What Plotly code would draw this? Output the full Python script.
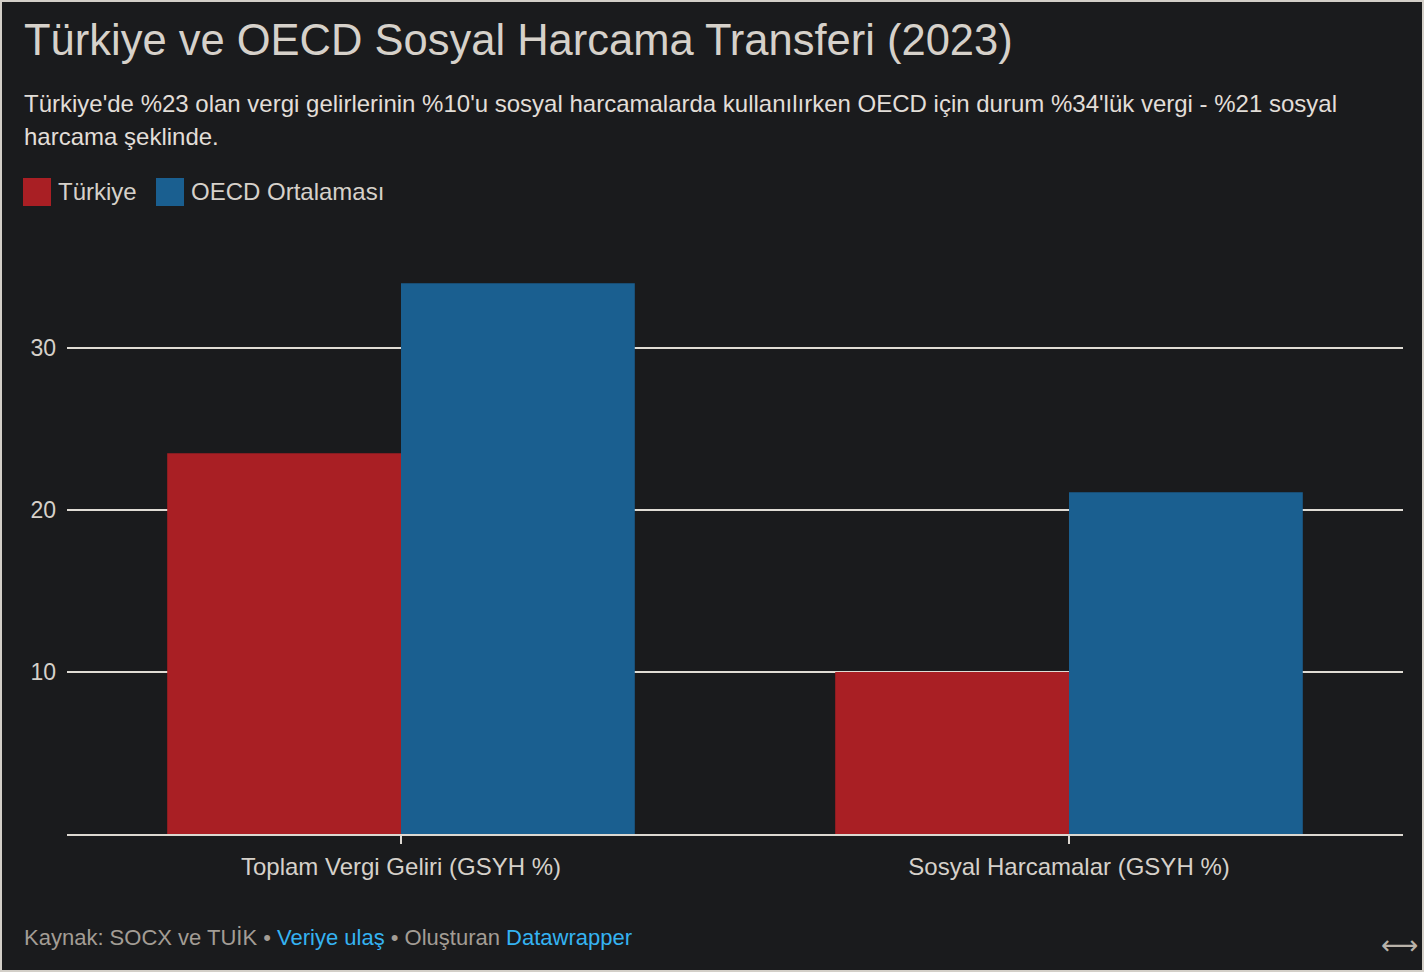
import plotly.graph_objects as go

categories = ["Toplam Vergi Geliri (GSYH %)", "Sosyal Harcamalar (GSYH %)"]
turkiye = [23.5, 10.0]
oecd = [34.0, 21.1]
series_names = ["Türkiye", "OECD Ortalaması"]
series_colors = ["#a91f24", "#1a5f90"]
y_ticks = [10, 20, 30]

title = "Türkiye ve OECD Sosyal Harcama Transferi (2023)"
subtitle_lines = ["Türkiye'de %23 olan vergi gelirlerinin %10'u sosyal harcamalarda kullanılırken "
                  "OECD için durum %34'lük vergi - %21 sosyal",
                  "harcama şeklinde."]

W, H = 1424, 972
L, R, T, B = 67, 21, 240, 138
PW, PH = W - L - R, H - T - B
YMAX = 36.67

def px(x):
    return (x - L) / PW

def py(y):
    return (H - B - y) / PH

BG = "#1a1b1d"
TXT = "#d6d1ca"
FONT = "Liberation Sans, Arial, sans-serif"

fig = go.Figure()
for name, vals, col in zip(series_names, [turkiye, oecd], series_colors):
    fig.add_trace(go.Bar(x=categories, y=vals, name=name, marker_color=col,
                         marker_line_width=0, hoverinfo="skip"))

shapes = [dict(type="rect", xref="paper", yref="paper",
               x0=px(1), x1=px(W - 1), y0=py(1), y1=py(H - 1),
               line=dict(color="#d3cfc8", width=2), fillcolor="rgba(0,0,0,0)", layer="below")]

annotations = [
    dict(text=title, x=px(22), y=py(40), xref="paper", yref="paper", xanchor="left",
         yanchor="middle", showarrow=False, font=dict(size=43.5, color=TXT, family=FONT)),
]
for line, ly in zip(subtitle_lines, [103, 137]):
    annotations.append(dict(text=line, x=px(22), y=py(ly), xref="paper", yref="paper",
                            xanchor="left", yanchor="middle", align="left", showarrow=False,
                            font=dict(size=24, color="#e2ded8", family=FONT)))

# custom legend
leg_x = [23, 156]
for name, col, lx in zip(series_names, series_colors, leg_x):
    shapes.append(dict(type="rect", xref="paper", yref="paper",
                       x0=px(lx), x1=px(lx + 28), y0=py(206), y1=py(178),
                       fillcolor=col, line=dict(width=0)))
    annotations.append(dict(text=name, x=px(lx + 33), y=py(191), xref="paper", yref="paper",
                            xanchor="left", yanchor="middle", showarrow=False,
                            font=dict(size=24, color=TXT, family=FONT)))

footer = ("<span style='color:#a39d95'>Kaynak: SOCX ve TUİK • </span>"
          "<span style='color:#35b3f2'>Veriye ulaş</span>"
          "<span style='color:#a39d95'> • Oluşturan </span>"
          "<span style='color:#35b3f2'>Datawrapper</span>")
annotations.append(dict(text=footer, x=px(22), y=py(937), xref="paper", yref="paper",
                        xanchor="left", yanchor="middle", showarrow=False,
                        font=dict(size=22, color="#a39d95", family=FONT)))
annotations.append(dict(text="⟷", x=px(1399), y=py(945), xref="paper", yref="paper",
                        xanchor="center", yanchor="middle", showarrow=False,
                        font=dict(size=26, color="#b9b2a9", family="DejaVu Sans")))

fig.update_layout(
    width=W, height=H,
    margin=dict(l=L, r=R, t=T, b=B, pad=0),
    paper_bgcolor=BG, plot_bgcolor=BG,
    barmode="group", bargap=0.30, bargroupgap=0,
    showlegend=False,
    font=dict(family=FONT, color=TXT),
    shapes=shapes, annotations=annotations,
    xaxis=dict(showgrid=False, showline=True, linecolor="#dcd8d1", linewidth=2,
               ticks="outside", ticklen=8, tickwidth=1.5, tickcolor="#dcd8d1",
               ticklabelstandoff=2,
               tickfont=dict(size=24, color=TXT, family=FONT), fixedrange=True),
    yaxis=dict(range=[0, YMAX], tickvals=y_ticks, showgrid=True, gridcolor="#e0dcd5",
               gridwidth=1.5, zeroline=False, showline=False, ticks="",
               ticklabelstandoff=10,
               tickfont=dict(size=23, color=TXT, family=FONT), fixedrange=True),
)

fig.write_html("out.html", config={"displayModeBar": False})
